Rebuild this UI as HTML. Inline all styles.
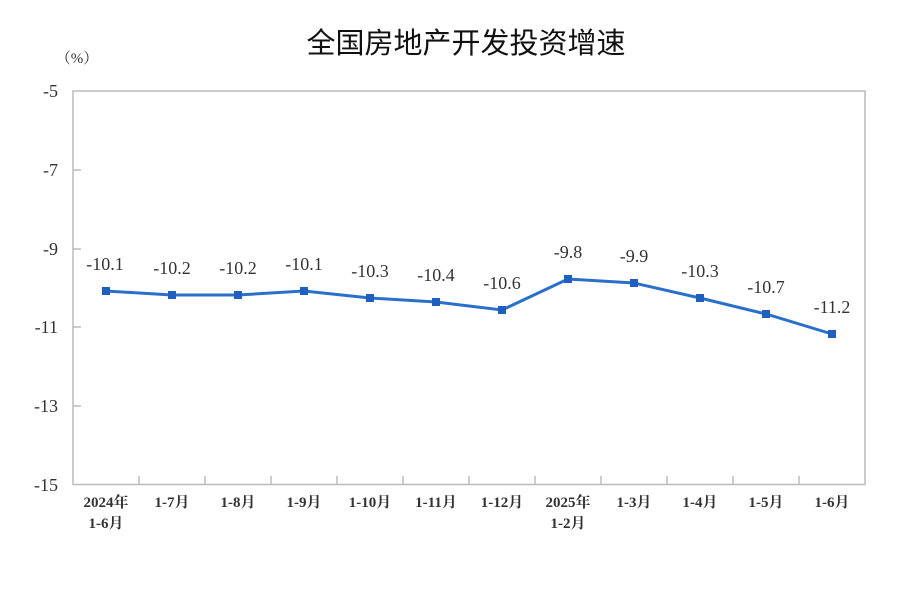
<!DOCTYPE html>
<html><head><meta charset="utf-8"><style>
body{margin:0;background:#fff;width:918px;height:588px;overflow:hidden}
</style></head><body>
<svg width="918" height="588" xmlns="http://www.w3.org/2000/svg">
<text x="466" y="53" text-anchor="middle" font-family="'Noto Sans CJK SC',sans-serif" font-size="29" fill="#111">全国房地产开发投资增速</text>
<text x="77" y="63" text-anchor="middle" font-family="'Liberation Serif','Noto Serif CJK SC',serif" font-size="15" fill="#333">（%）</text>
<rect x="73" y="91" width="792" height="393.5" fill="none" stroke="#bbb" stroke-width="1.5"/>
<g stroke="#bbb" stroke-width="1.5">
<line x1="139" y1="476" x2="139" y2="484"/><line x1="205" y1="476" x2="205" y2="484"/><line x1="271" y1="476" x2="271" y2="484"/><line x1="337" y1="476" x2="337" y2="484"/><line x1="403" y1="476" x2="403" y2="484"/><line x1="469" y1="476" x2="469" y2="484"/><line x1="535" y1="476" x2="535" y2="484"/><line x1="601" y1="476" x2="601" y2="484"/><line x1="667" y1="476" x2="667" y2="484"/><line x1="733" y1="476" x2="733" y2="484"/><line x1="799" y1="476" x2="799" y2="484"/>
<line x1="73" y1="170" x2="81" y2="170"/><line x1="73" y1="249" x2="81" y2="249"/><line x1="73" y1="327" x2="81" y2="327"/><line x1="73" y1="406" x2="81" y2="406"/>
</g>
<g font-family="'Liberation Serif',serif" font-size="18" fill="#333" text-anchor="end">
<text x="58" y="97">-5</text><text x="58" y="176">-7</text><text x="58" y="255">-9</text><text x="58" y="333">-11</text><text x="58" y="412">-13</text><text x="58" y="491">-15</text>
</g>
<g font-family="'Liberation Serif','Noto Serif CJK SC',serif" font-size="15" font-weight="bold" fill="#333" text-anchor="middle">
<text x="106" y="507">2024年</text><text x="106" y="528">1-6月</text>
<text x="172" y="507">1-7月</text><text x="238" y="507">1-8月</text><text x="304" y="507">1-9月</text><text x="370" y="507">1-10月</text><text x="436" y="507">1-11月</text><text x="502" y="507">1-12月</text>
<text x="568" y="507">2025年</text><text x="568" y="528">1-2月</text>
<text x="634" y="507">1-3月</text><text x="700" y="507">1-4月</text><text x="766" y="507">1-5月</text><text x="832" y="507">1-6月</text>
</g>
<polyline fill="none" stroke="#2a6fc9" stroke-width="3" points="106,291 172,295 238,295 304,291 370,298 436,302 502,310 568,279 634,283 700,298 766,314 832,334"/>
<g fill="#1f5fc0">
<rect x="102" y="287" width="8" height="8"/><rect x="168" y="291" width="8" height="8"/><rect x="234" y="291" width="8" height="8"/><rect x="300" y="287" width="8" height="8"/><rect x="366" y="294" width="8" height="8"/><rect x="432" y="298" width="8" height="8"/><rect x="498" y="306" width="8" height="8"/><rect x="564" y="275" width="8" height="8"/><rect x="630" y="279" width="8" height="8"/><rect x="696" y="294" width="8" height="8"/><rect x="762" y="310" width="8" height="8"/><rect x="828" y="330" width="8" height="8"/>
</g>
<g font-family="'Liberation Serif',serif" font-size="18" fill="#333" text-anchor="middle">
<text x="105" y="270">-10.1</text><text x="172" y="274">-10.2</text><text x="238" y="274">-10.2</text><text x="304" y="270">-10.1</text><text x="370" y="277">-10.3</text><text x="436" y="281">-10.4</text><text x="502" y="289">-10.6</text><text x="568" y="258">-9.8</text><text x="634" y="262">-9.9</text><text x="700" y="277">-10.3</text><text x="766" y="293">-10.7</text><text x="832" y="313">-11.2</text>
</g>
</svg>
</body></html>
